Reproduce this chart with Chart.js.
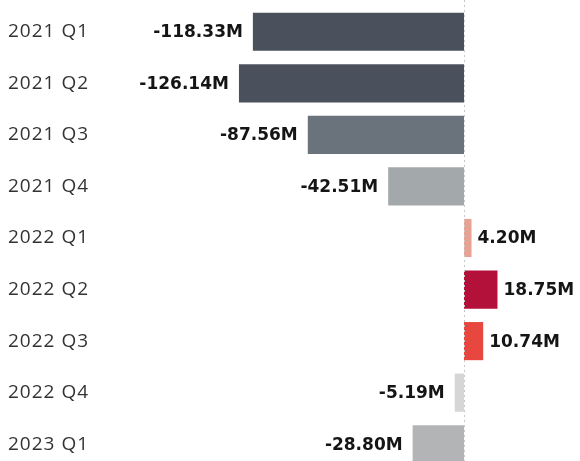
<!DOCTYPE html>
<html>
<head>
<meta charset="utf-8">
<script src="https://cdn.jsdelivr.net/npm/chart.js@4/dist/chart.umd.min.js"></script>
<style>
  html, body { margin: 0; padding: 0; background: #fff; overflow: hidden; }
  #wrap { width: 580px; height: 461px; overflow: hidden; }
</style>
</head>
<body>
<div id="wrap"><canvas id="qChart" width="580" height="470"></canvas></div>
<script>
// Data for the chart
const quarters = ['2021 Q1', '2021 Q2', '2021 Q3', '2021 Q4', '2022 Q1', '2022 Q2', '2022 Q3', '2022 Q4', '2023 Q1'];
const values = [-118.33, -126.14, -87.56, -42.51, 4.20, 18.75, 10.74, -5.19, -28.80]; // in millions
const barColors = ['#4b515c', '#4b515c', '#6a737b', '#a3a8aa', '#e8a293', '#b3103a', '#e8473f', '#d6d6d6', '#b2b4b5'];

const tickFont = '"Open Sans", sans-serif';
const valueFont = '"DejaVu Sans", sans-serif';

// wider letter spacing for the category labels
const spacing = {
  id: 'spacing',
  beforeDraw(chart) { chart.ctx.letterSpacing = '1px'; }
};

// value labels at the end of each bar + dotted zero line
const barLabels = {
  id: 'barLabels',
  afterDatasetsDraw(chart) {
    const ctx = chart.ctx;
    const x0 = chart.scales.x.getPixelForValue(0);
    const area = chart.chartArea;
    ctx.save();
    ctx.strokeStyle = '#c8c8c8';
    ctx.lineWidth = 1;
    ctx.setLineDash([2, 3]);
    ctx.beginPath();
    ctx.moveTo(Math.round(x0) + 0.5, 0);
    ctx.lineTo(Math.round(x0) + 0.5, area.bottom);
    ctx.stroke();
    ctx.setLineDash([]);

    ctx.font = 'bold 17px ' + valueFont;
    ctx.letterSpacing = '0px';
    ctx.fillStyle = '#151515';
    ctx.textBaseline = 'middle';
    chart.getDatasetMeta(0).data.forEach((bar, i) => {
      const v = values[i];
      const txt = v.toFixed(2) + 'M';
      if (v < 0) {
        ctx.textAlign = 'right';
        ctx.fillText(txt, bar.x - 10, bar.y + 1);
      } else {
        ctx.textAlign = 'left';
        ctx.fillText(txt, bar.x + 6, bar.y + 1);
      }
    });
    ctx.restore();
  }
};

const config = {
  type: 'bar',
  data: {
    labels: quarters,
    datasets: [{
      data: values,
      backgroundColor: barColors,
      borderWidth: 0,
      categoryPercentage: 1,
      barPercentage: 0.74
    }]
  },
  options: {
    indexAxis: 'y',
    responsive: false,
    animation: false,
    layout: { padding: { left: 8, top: 6, right: 0, bottom: 0 } },
    plugins: { legend: { display: false }, tooltip: { enabled: false } },
    scales: {
      x: {
        display: false,
        min: -192.8,
        max: 65
      },
      y: {
        grid: { display: false, drawTicks: false },
        border: { display: false },
        afterFit(scale) {
          scale.width = 112;
          scale.paddingTop = 0;
          scale.paddingBottom = 0;
        },
        ticks: {
          crossAlign: 'far',
          padding: 0,
          color: '#333',
          font: { family: tickFont, size: 19 }
        }
      }
    }
  },
  plugins: [spacing, barLabels]
};

// Render the chart
const ctx = document.getElementById('qChart').getContext('2d');
const qChart = new Chart(ctx, config);
</script>
</body>
</html>
